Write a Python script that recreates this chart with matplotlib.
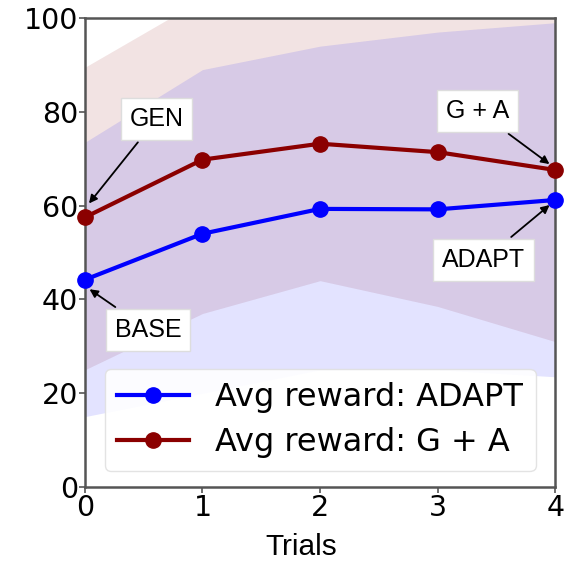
import matplotlib
matplotlib.use("Agg")
import matplotlib.pyplot as plt
import numpy as np

# ── Data ──
trials = [0, 1, 2, 3, 4]
adapt_mean = [44.2, 54.0, 59.3, 59.2, 61.2]
adapt_low = [15.0, 20.0, 25.0, 25.0, 23.5]
adapt_high = [73.5, 89.0, 94.0, 97.0, 99.0]
ga_mean = [57.5, 69.8, 73.2, 71.4, 67.6]
ga_low = [25.0, 37.0, 44.0, 38.5, 31.0]
ga_high = [89.5, 104.0, 108.0, 108.0, 106.0]

fig = plt.figure(figsize=(5.66, 5.63), dpi=100)
ax = fig.add_axes([0.150, 0.135, 0.831, 0.833])

ax.fill_between(trials, ga_low, ga_high, color="darkred", alpha=0.11, lw=0)
ax.fill_between(trials, adapt_low, adapt_high, color="blue", alpha=0.11, lw=0)

ax.plot(trials, adapt_mean, "-o", color="blue", lw=3, ms=11, label="Avg reward: ADAPT", clip_on=False, zorder=5)
ax.plot(trials, ga_mean, "-o", color="darkred", lw=3, ms=11, label="Avg reward: G + A", clip_on=False, zorder=5)

box = dict(boxstyle="square,pad=0.35", fc="white", ec="#dddddd", lw=1)
arr = dict(arrowstyle="-|>", color="black", lw=1.3, mutation_scale=12)
afont = dict(fontsize=18, family="Liberation Sans")
ax.annotate("GEN", xy=(0.02, 60), xytext=(0.61, 78.5), textcoords="data",
            ha="center", va="center", bbox=box, arrowprops=arr, zorder=6, **afont)
ax.annotate("BASE", xy=(0.02, 42.5), xytext=(0.54, 33.5), textcoords="data",
            ha="center", va="center", bbox=box, arrowprops=arr, zorder=6, **afont)
ax.annotate("G + A", xy=(3.97, 68.5), xytext=(3.34, 80.2), textcoords="data",
            ha="center", va="center", bbox=box, arrowprops=arr, zorder=6, **afont)
ax.annotate("ADAPT", xy=(3.97, 60.5), xytext=(3.39, 48.4), textcoords="data",
            ha="center", va="center", bbox=box, arrowprops=arr, zorder=6, **afont)

ax.set_xlim(0, 4)
ax.set_ylim(0, 100)
ax.set_xticks(trials)
ax.set_yticks([0, 20, 40, 60, 80, 100])
ax.tick_params(labelsize=20.5, length=4, width=1.2, color="#555555", pad=1)
for s in ax.spines.values():
    s.set_color("#555555")
    s.set_linewidth(1.8)
ax.set_xlabel("Trials", fontsize=21.5, family="Liberation Sans")
ax.xaxis.set_label_coords(0.46, -0.098)

leg = ax.legend(loc="lower center", fontsize=23, handlelength=2.25,
                borderaxespad=0.5, framealpha=0.9, edgecolor="#e0e0e0",
                handletextpad=0.8, borderpad=0.4, labelspacing=0.45)
leg.set_zorder(10)

plt.savefig("out.png", dpi=100)
